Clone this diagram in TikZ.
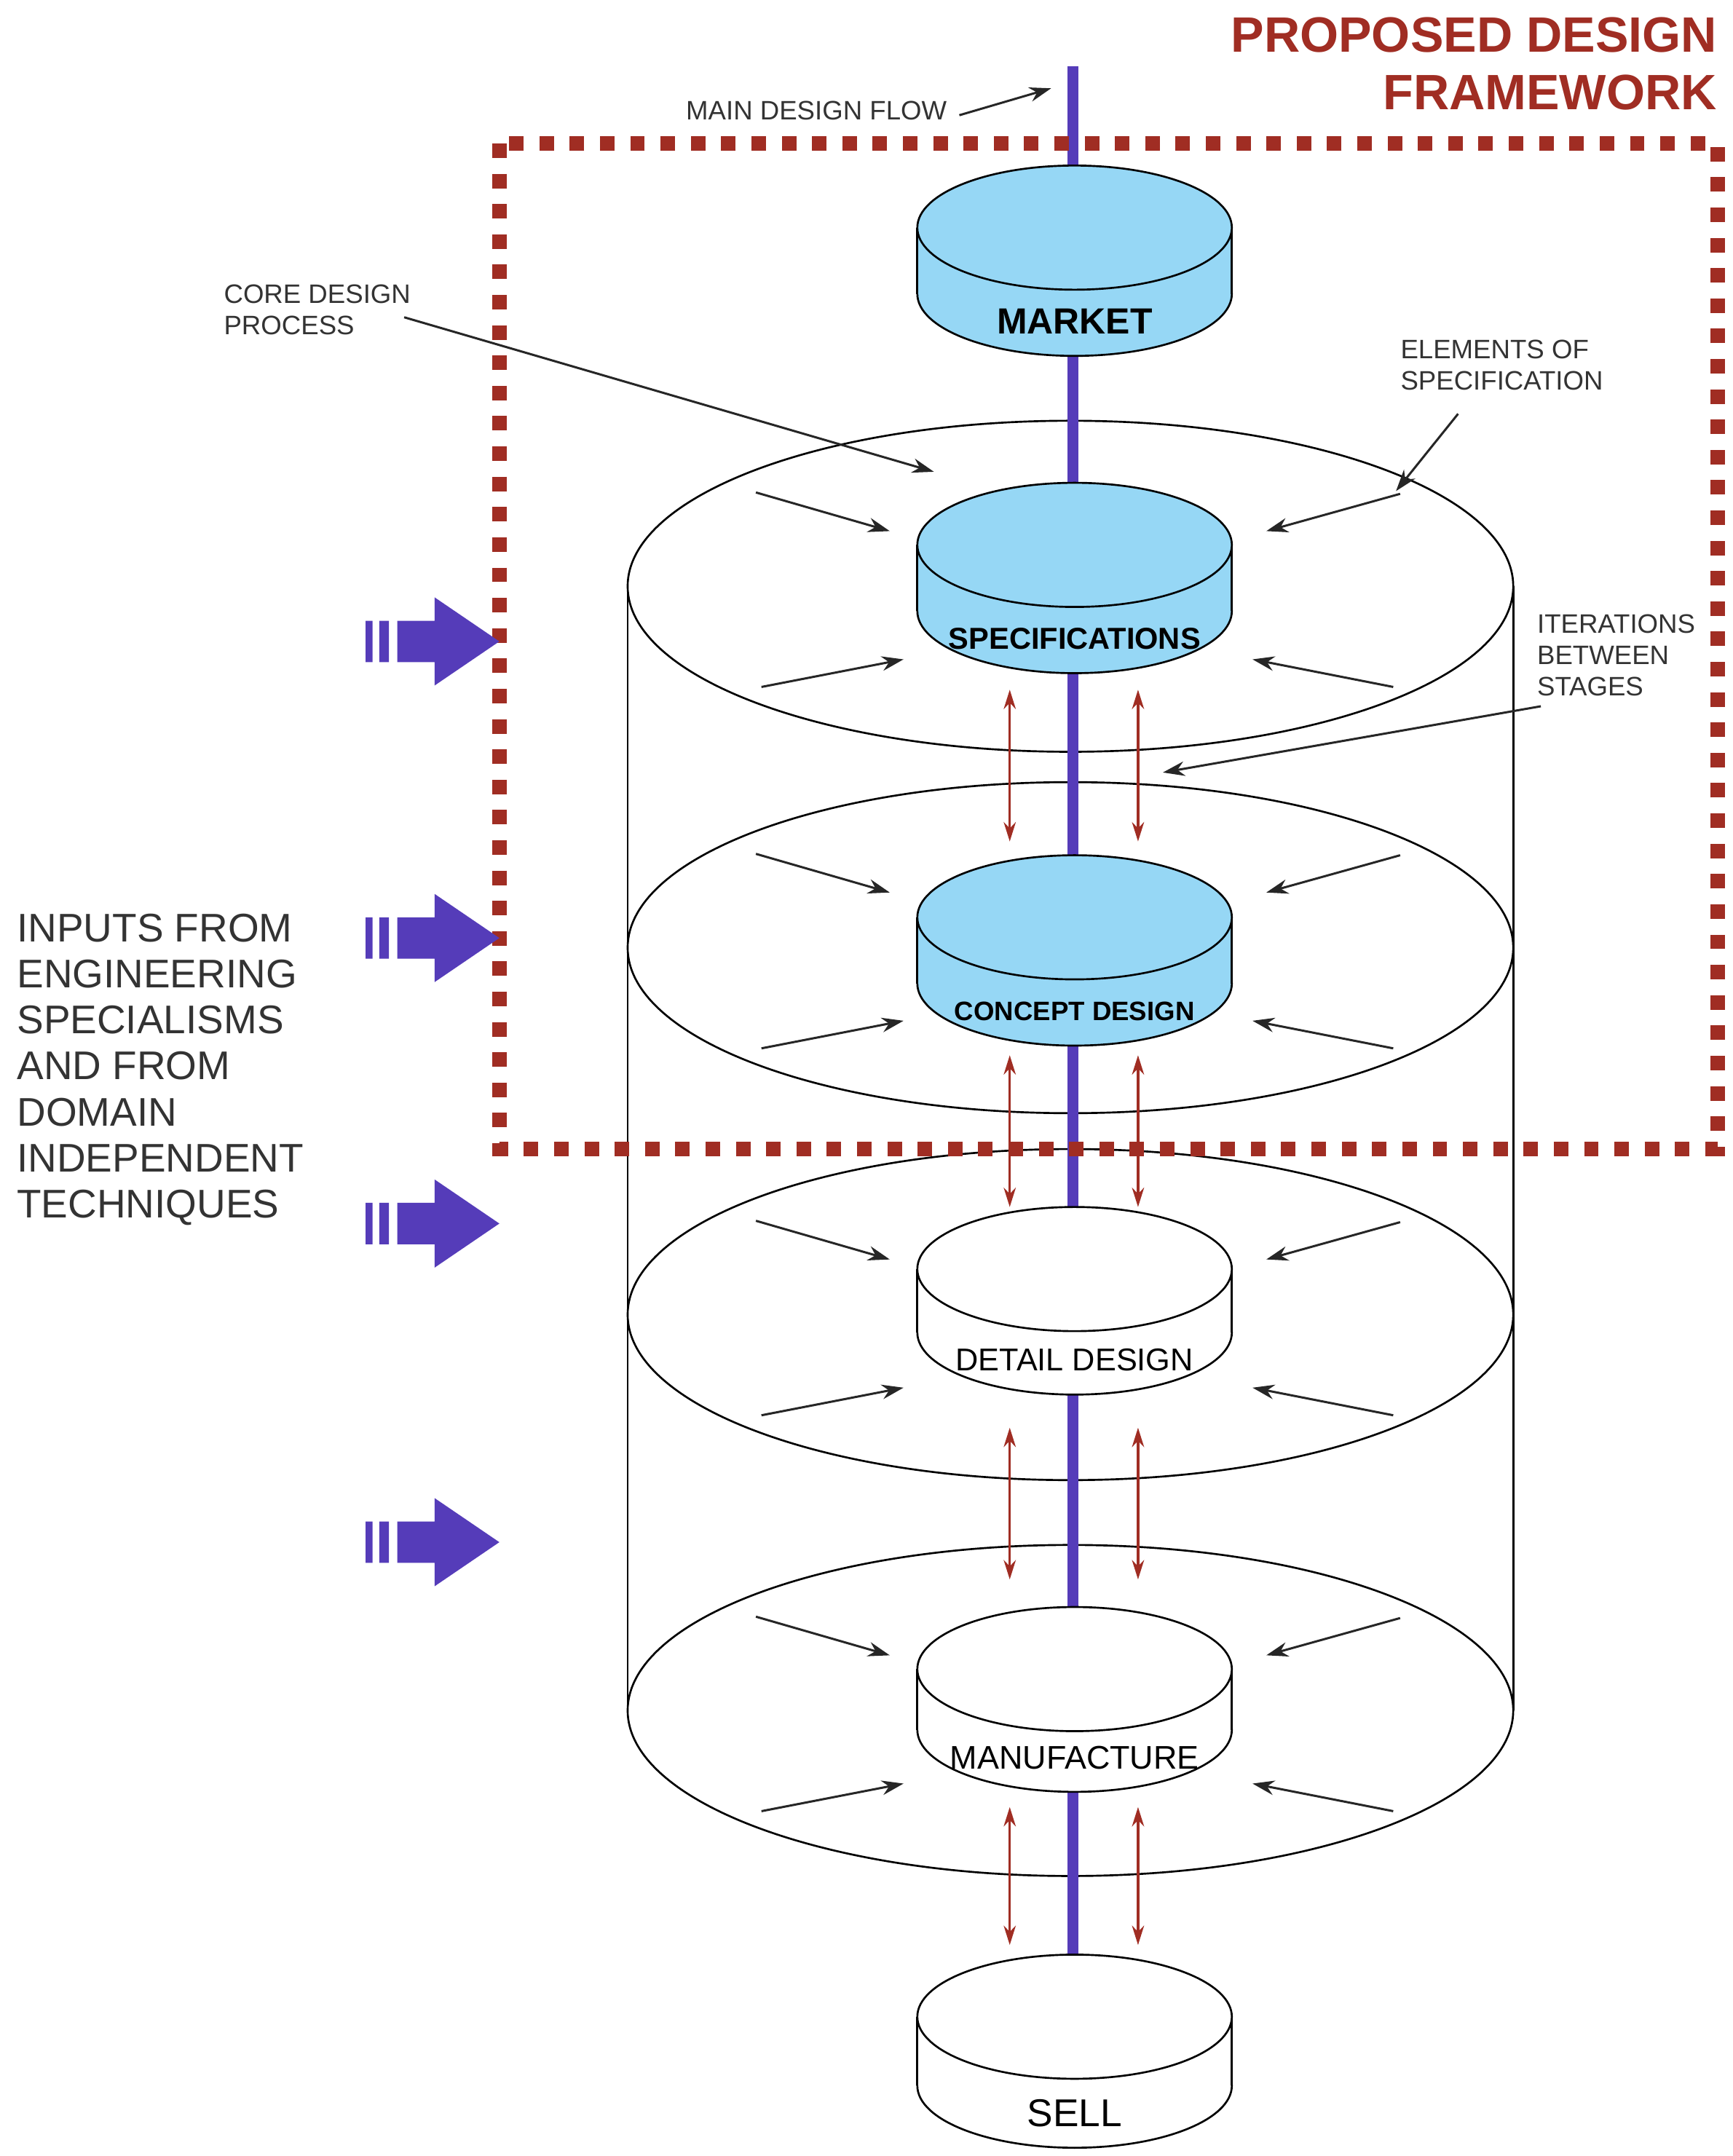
\documentclass[tikz,border=0pt]{standalone}
\usepackage{fontspec}
\setmainfont{Liberation Sans}
\usetikzlibrary{arrows.meta}
\definecolor{frame}{RGB}{160,45,35}
\definecolor{flow}{RGB}{85,60,185}
\definecolor{stage}{RGB}{150,215,245}
\tikzset{
  note/.style={font=\fontsize{11}{13}\selectfont, text=black!80, align=left, inner sep=0pt},
  pointer/.style={-{Stealth[length=9pt,width=6pt]}, line width=0.9pt, black!85},
  iterate/.style={{Stealth[length=8pt,width=5pt]}-{Stealth[length=8pt,width=5pt]}, line width=1pt, frame},
  level/.style={line width=0.8pt},
}
% disc: name, top y, bottom y, fill, text, font
\newcommand{\disc}[6]{
  \filldraw[fill=#4, level] (779,#3) ellipse [x radius=114, y radius=45];
  \fill[#4] (665,#2) rectangle (893,#3);
  \draw[level] (665,#2) -- (665,#3) (893,#2) -- (893,#3);
  \filldraw[fill=#4, level] (779,#2) ellipse [x radius=114, y radius=45];
  \node[font=#6, inner sep=0pt] (#1) at (779,#3+20) {#5};
}
% inputs: name, y
\newcommand{\inputarrow}[2]{
  \fill[flow] (265,#2-15) rectangle (270,#2+15) (275,#2-15) rectangle (282,#2+15)
    (288,#2-15) -- (315,#2-15) -- (315,#2-32) -- (362,#2) -- (315,#2+32) -- (315,#2+15) -- (288,#2+15) -- cycle;
  \coordinate (#1) at (362,#2);
}
% level arrows: y of ellipse centre
\newcommand{\levelarrows}[1]{
  \coordinate (ula) at (548,#1-68); \coordinate (ulb) at (645,#1-40);
  \coordinate (lla) at (552,#1+73); \coordinate (llb) at (655,#1+53);
  \coordinate (ura) at (1015,#1-67); \coordinate (urb) at (918,#1-40);
  \coordinate (lra) at (1010,#1+73); \coordinate (lrb) at (908,#1+53);
  \draw[pointer] (ula) -- (ulb);
  \draw[pointer] (lla) -- (llb);
  \draw[pointer] (ura) -- (urb);
  \draw[pointer] (lra) -- (lrb);
}
\newcommand{\iterpair}[2]{
  \coordinate (ia) at (732,#1); \coordinate (ib) at (732,#2);
  \coordinate (ic) at (825,#1); \coordinate (id) at (825,#2);
  \draw[iterate] (ia) -- (ib);
  \draw[iterate] (ic) -- (id);
}
\begin{document}
\begin{tikzpicture}[x=0.02cm, y=-0.02cm]
\useasboundingbox (0,0) rectangle (1256,1563);

% big cylinder
\draw[level] (455,425) -- (455,1240) (1097,425) -- (1097,1240);
\foreach \y in {425,687,953,1240}
  \draw[level] (776,\y) ellipse [x radius=321, y radius=120];

% main flow
\coordinate (flowtop) at (778,48);
\coordinate (flowend) at (778,1418);
\draw[flow, line width=4.5pt] (flowtop) -- (flowend);

% stages
\disc{market}{165}{213}{stage}{MARKET}{\bfseries\fontsize{15}{17}\selectfont}
\disc{spec}{395}{443}{stage}{SPECIFICATIONS}{\bfseries\fontsize{12.5}{14}\selectfont}
\disc{concept}{665}{713}{stage}{CONCEPT DESIGN}{\bfseries\fontsize{11}{13}\selectfont}
\disc{detail}{920}{966}{white}{DETAIL DESIGN}{\fontsize{13}{15}\selectfont}
\disc{manuf}{1210}{1254}{white}{MANUFACTURE}{\fontsize{13.5}{15}\selectfont}
\disc{sell}{1462}{1512}{white}{SELL}{\fontsize{16}{18}\selectfont}

% elements
\levelarrows{425}
\levelarrows{687}
\levelarrows{953}
\levelarrows{1240}

% iterations
\iterpair{500}{610}
\iterpair{765}{875}
\iterpair{1035}{1145}
\iterpair{1310}{1410}

% framework
\draw[frame, line width=6pt, dash pattern=on 6pt off 6.5pt] (362,104) rectangle (1245,833);
\node[anchor=north east, align=right, text=frame, font=\bfseries\fontsize{20.5}{24}\selectfont, inner sep=0pt] (title) at (1245,12) {PROPOSED DESIGN\\FRAMEWORK};

% inputs
\inputarrow{in1}{465}
\inputarrow{in2}{680}
\inputarrow{in3}{887}
\inputarrow{in4}{1118}
\node[anchor=north west, align=left, text=black!80, font=\fontsize{16.5}{19}\selectfont, inner sep=0pt] (inputs) at (12,662) {INPUTS FROM\\ENGINEERING\\SPECIALISMS\\AND FROM\\DOMAIN\\INDEPENDENT\\TECHNIQUES};

% notes
\node[note, anchor=west] (flowlbl) at (497,80) {MAIN DESIGN FLOW};
\coordinate (flowtip) at (762,64);
\draw[pointer] (flowlbl.east) ++(5pt,-2pt) coordinate (fa) -- (flowtip);

\node[note, anchor=north west] (core) at (162,206) {CORE DESIGN\\PROCESS};
\coordinate (coretip) at (677,342);
\coordinate (corestart) at (293,230);
\draw[pointer] (corestart) -- (coretip);

\node[note, anchor=north west] (elem) at (1015,246) {ELEMENTS OF\\SPECIFICATION};
\coordinate (elemstart) at (1057,300);
\coordinate (elemtip) at (1012,356);
\draw[pointer] (elemstart) -- (elemtip);

\node[note, anchor=north west] (iter) at (1114,445) {ITERATIONS\\BETWEEN\\STAGES};
\coordinate (iterstart) at (1117,512);
\coordinate (itertip) at (843,560);
\draw[pointer] (iterstart) -- (itertip);
\end{tikzpicture}
\end{document}
